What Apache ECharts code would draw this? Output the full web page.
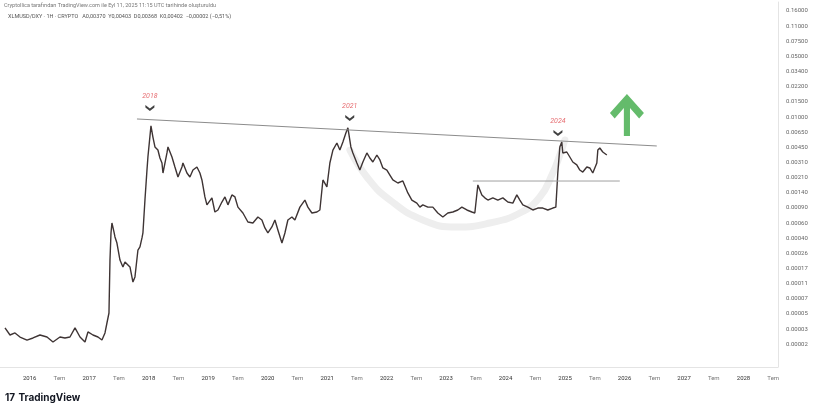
<!DOCTYPE html>
<html>
<head>
<meta charset="utf-8">
<script src="https://cdn.jsdelivr.net/npm/echarts@6/dist/echarts.min.js"></script>
<style>
html,body{margin:0;padding:0;background:#fff;}
#chart{width:825px;height:413px;}
</style>
</head>
<body>
<div id="chart"></div>
<script>
// ---- data ----
const priceYears = [2015.584,2015.668,2015.752,2015.836,2015.954,2016.055,2016.172,2016.290,2016.391,2016.508,2016.592,2016.676,2016.761,2016.845,2016.929,2016.979,2017.063,2017.147,2017.214,2017.265,2017.298,2017.332,2017.349,2017.366,2017.382,2017.416,2017.433,2017.466,2017.517,2017.567,2017.601,2017.634,2017.685,2017.735,2017.769,2017.819,2017.853,2017.887,2017.903,2017.937,2017.971,2017.987,2018.038,2018.071,2018.105,2018.155,2018.189,2018.223,2018.240,2018.307,2018.324,2018.391,2018.441,2018.492,2018.559,2018.576,2018.643,2018.693,2018.744,2018.811,2018.861,2018.895,2018.945,2018.979,2019.063,2019.113,2019.164,2019.231,2019.282,2019.332,2019.399,2019.450,2019.500,2019.584,2019.668,2019.752,2019.836,2019.903,2019.954,2020.004,2020.071,2020.122,2020.172,2020.240,2020.290,2020.340,2020.408,2020.458,2020.542,2020.626,2020.676,2020.744,2020.828,2020.878,2020.929,2020.996,2021.046,2021.097,2021.164,2021.214,2021.265,2021.315,2021.349,2021.399,2021.433,2021.500,2021.550,2021.601,2021.668,2021.718,2021.769,2021.836,2021.887,2021.937,2022.004,2022.055,2022.105,2022.189,2022.273,2022.357,2022.424,2022.508,2022.559,2022.609,2022.693,2022.777,2022.861,2022.945,2023.029,2023.113,2023.197,2023.265,2023.349,2023.433,2023.483,2023.534,2023.601,2023.651,2023.702,2023.786,2023.870,2023.954,2024.038,2024.122,2024.189,2024.240,2024.290,2024.374,2024.458,2024.542,2024.626,2024.710,2024.794,2024.845,2024.878,2024.912,2024.945,2024.962,2025.029,2025.080,2025.130,2025.197,2025.248,2025.298,2025.366,2025.416,2025.466,2025.534,2025.551,2025.584,2025.634,2025.702];
const priceValues = [0.0000478,0.0000400,0.0000421,0.0000380,0.0000352,0.0000371,0.0000400,0.0000380,0.0000335,0.0000380,0.0000371,0.0000380,0.0000478,0.0000380,0.0000335,0.0000432,0.0000400,0.0000380,0.0000352,0.0000421,0.0000542,0.0000698,0.000267,0.000530,0.000683,0.000544,0.000479,0.000411,0.000267,0.000224,0.000254,0.000267,0.000224,0.000153,0.000174,0.000344,0.000372,0.000467,0.000530,0.00122,0.00261,0.00363,0.00800,0.00602,0.00468,0.00433,0.00354,0.00312,0.00242,0.00402,0.00468,0.00363,0.00282,0.00219,0.00282,0.00312,0.00242,0.00219,0.00261,0.00282,0.00242,0.00203,0.00132,0.00108,0.00129,0.000902,0.000949,0.00116,0.00132,0.00108,0.00139,0.00132,0.00102,0.000879,0.000700,0.000683,0.000795,0.000736,0.000602,0.000530,0.000617,0.000736,0.000572,0.000411,0.000530,0.000736,0.000795,0.000736,0.00102,0.00122,0.00102,0.000879,0.000902,0.000949,0.00203,0.00170,0.00312,0.00433,0.00518,0.00433,0.00531,0.00667,0.00760,0.00468,0.00402,0.00312,0.00261,0.00320,0.00402,0.00354,0.00320,0.00382,0.00337,0.00275,0.00261,0.00230,0.00203,0.00188,0.00198,0.00146,0.00122,0.00113,0.00102,0.00108,0.00102,0.00102,0.000879,0.000795,0.000879,0.000902,0.000949,0.00102,0.000949,0.000902,0.000879,0.00179,0.00139,0.00129,0.00122,0.00129,0.00122,0.00129,0.00116,0.00113,0.00139,0.00122,0.00108,0.00102,0.000949,0.000997,0.000997,0.000949,0.000997,0.00102,0.00242,0.00468,0.00530,0.00402,0.00412,0.00363,0.00320,0.00297,0.00261,0.00248,0.00282,0.00275,0.00242,0.00312,0.00433,0.00456,0.00412,0.00382];

// descending resistance line (start / end)
const trendYears = [2017.803, 2026.542];
const trendValues = [0.00951, 0.00480];
// horizontal support line
const supportYears = [2023.449, 2025.920];
const supportValues = [0.001976, 0.001976];
// cup arc drawn on the chart
const arcYears = [2021.382, 2021.668, 2022.055, 2022.609, 2023.181, 2023.735, 2024.240, 2024.576, 2024.794, 2024.912, 2024.996];
const arcValues = [0.00433, 0.00219, 0.00122, 0.000736, 0.000617, 0.000683, 0.000879, 0.001318, 0.00242, 0.00382, 0.00559];
// peak markers
const peakLabels = ['2018', '2021', '2024'];
const peakYears = [2018.02, 2021.38, 2024.88];
const peakValues = [0.01256, 0.00975, 0.00667];
// up arrow
const arrowYear = [2026.04];
const arrowValue = [0.0105];

// axis tick labels
const yTickLabels = ['0.16000','0.11000','0.07500','0.05000','0.03400','0.02200','0.01500','0.01000','0.00650','0.00450','0.00310','0.00210','0.00140','0.00090','0.00060','0.00040','0.00026','0.00017','0.00011','0.00007','0.00005','0.00003','0.00002']; // steps -5 .. -27
const monthLabel = 'Tem';

const headerLine1 = 'Cryptollica tarafından TradingView.com ile Eyl 11, 2025 11:15 UTC tarihinde oluşturuldu';
const headerLine2 = 'XLMUSD/DXY · 1H · CRYPTO   A0,00370  Y0,00403  D0,00368  K0,00402  −0,00002 (−0,51%)';

// ---- chart ----
const kMin = -28.5, kMax = -4.41; // log-steps of 10^(1/6)
const pair = (xs, ys) => xs.map((x, i) => [x, ys[i]]);

const chart = echarts.init(document.getElementById('chart'), null, {renderer: 'canvas'});
chart.setOption({
  animation: false,
  backgroundColor: '#ffffff',
  grid: {left: 0, right: 47, top: 2, bottom: 46, containLabel: false, outerBoundsMode: 'none'},
  xAxis: {
    type: 'value', min: 2015.5, max: 2028.58, interval: 0.5,
    splitLine: {show: false},
    axisLine: {show: true, lineStyle: {color: '#e4e4e4'}},
    axisTick: {show: false},
    axisLabel: {
      interval: 0, margin: 8, fontFamily: 'Roboto', fontSize: 6,
      formatter: v => {
        const r = Math.round(v * 2) / 2;
        if (Math.abs(r - v) > 1e-6) return '';
        if (r === 2015.5) return '';
        if (r % 1 === 0) return '{y|' + r + '}';
        return '{m|' + monthLabel + '}';
      },
      rich: {y: {color: '#333', fontSize: 6}, m: {color: '#777', fontSize: 6}}
    }
  },
  yAxis: [
    {
      type: 'log', logBase: 10, position: 'right',
      min: Math.pow(10, kMin / 6), max: Math.pow(10, kMax / 6),
      axisLabel: {show: false}, axisLine: {show: false}, axisTick: {show: false}, splitLine: {show: false}
    },
    {
      type: 'value', position: 'right', min: kMin, max: kMax, interval: 0.5,
      splitLine: {show: false},
      axisLine: {show: true, lineStyle: {color: '#e4e4e4'}},
      axisTick: {show: false},
      axisLabel: {
        interval: 0, margin: 8, fontFamily: 'Roboto', fontSize: 6, color: '#666',
        formatter: v => {
          const r = Math.round(v);
          if (Math.abs(r - v) > 1e-6) return '';
          return yTickLabels[-5 - r] || '';
        }
      }
    }
  ],
  series: [
    {
      type: 'line', yAxisIndex: 0, data: pair(arcYears, arcValues), smooth: 0.5,
      showSymbol: false, lineStyle: {color: '#eeeeee', width: 7, cap: 'round'}, z: 1, silent: true
    },
    {
      type: 'line', yAxisIndex: 0, data: pair(priceYears, priceValues),
      showSymbol: false, lineStyle: {color: '#3e3434', width: 1.4}, z: 3
    },
    {
      type: 'line', yAxisIndex: 0, data: pair(trendYears, trendValues),
      showSymbol: false, lineStyle: {color: '#8c8c8c', width: 1}, z: 4
    },
    {
      type: 'line', yAxisIndex: 0, data: pair(supportYears, supportValues),
      showSymbol: false, lineStyle: {color: '#a0a0a0', width: 1}, z: 4
    },
    {
      type: 'scatter', yAxisIndex: 0,
      data: peakYears.map((x, i) => ({value: [x, peakValues[i]], label: {formatter: peakLabels[i]}})),
      symbol: 'path://M0,0 L5,4 L10,0 L10,3 L5,7 L0,3 Z', symbolSize: [9, 6],
      itemStyle: {color: '#111'},
      label: {show: true, position: 'top', distance: 5, color: '#e0474c', fontSize: 7,
              fontStyle: 'italic', fontFamily: 'Roboto'},
      z: 5
    },
    {
      type: 'scatter', yAxisIndex: 0, data: pair(arrowYear, arrowValue),
      symbol: 'path://M50,0 L100,45 L86,58 L59,33 L59,100 L41,100 L41,33 L14,58 L0,45 Z',
      symbolSize: [34, 42], itemStyle: {color: '#3daa46'}, z: 5
    }
  ],
  graphic: [
    {type: 'text', left: 4, top: 3, style: {text: headerLine1, fontSize: 5.5, fill: '#777', fontFamily: 'Roboto'}},
    {type: 'text', left: 8, top: 14, style: {text: headerLine2, fontSize: 5.5, fill: '#555', fontFamily: 'Roboto'}},
    {type: 'text', left: 5, top: 392, style: {
      text: '{l|17} {n|TradingView}',
      rich: {l: {fontSize: 10, fontWeight: 'bold', fill: '#131722', fontFamily: 'Inter'},
             n: {fontSize: 10, fontWeight: 'bold', fill: '#131722', fontFamily: 'Inter'}}
    }}
  ]
});
</script>
</body>
</html>
